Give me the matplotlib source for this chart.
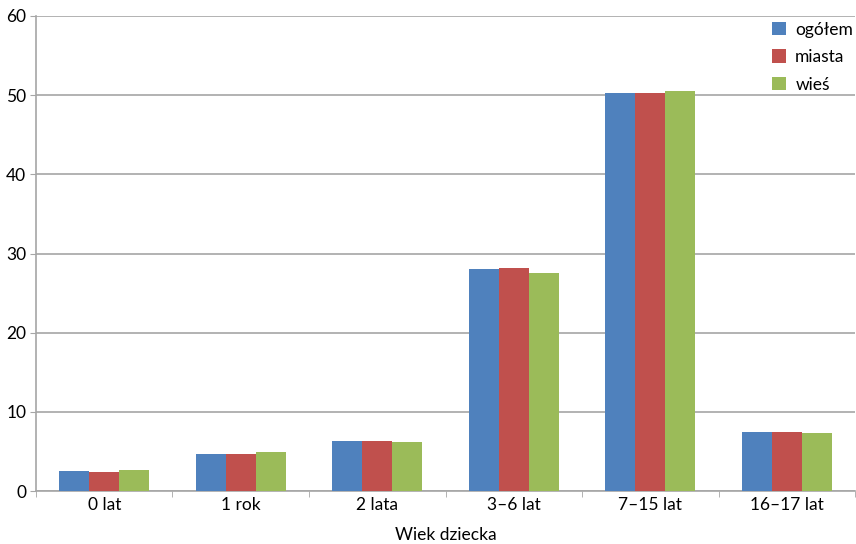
import numpy as np
import matplotlib.pyplot as plt

plt.rcParams['font.family'] = ['Lato', 'DejaVu Sans']

# Udział dzieci wg wieku (%)
categories = ["0 lat", "1 rok", "2 lata", "3–6 lat", "7–15 lat", "16–17 lat"]
ogolem = [2.5, 4.75, 6.3, 28.0, 50.3, 7.5]
miasta = [2.4, 4.7, 6.3, 28.2, 50.3, 7.5]
wies = [2.7, 5.0, 6.2, 27.6, 50.5, 7.4]

series = [("ogółem", ogolem, "#4F81BD"),
          ("miasta", miasta, "#C0504D"),
          ("wieś", wies, "#9BBB59")]

fig = plt.figure(figsize=(8.56, 5.44), dpi=100)
ax = fig.add_axes([0.042, 0.097, 0.957, 0.874])

x = np.arange(len(categories))
w = 0.22
for i, (name, vals, col) in enumerate(series):
    ax.bar(x + (i - 1) * w, vals, w, color=col, label=name, zorder=3)

ax.set_xlim(-0.5, len(categories) - 0.5)
ax.set_ylim(0, 60)
ax.set_yticks(range(0, 61, 10))
ax.yaxis.grid(True, color="#a6a6a6", linewidth=1.2, zorder=0)

ax.set_xticks(x)
ax.set_xticklabels(categories)
ax.set_xticks(np.arange(-0.5, len(categories)), minor=True)
ax.tick_params(axis="x", which="major", length=0, labelsize=12.5, pad=4)
ax.tick_params(axis="x", which="minor", length=4, color="#a6a6a6")
ax.tick_params(axis="y", length=4, color="#a6a6a6", labelsize=12.5, pad=3)

for side in ["top", "right"]:
    ax.spines[side].set_visible(False)
for side in ["left", "bottom"]:
    ax.spines[side].set_color("#a6a6a6")
    ax.spines[side].set_linewidth(1.2)

ax.set_xlabel("Wiek dziecka", fontsize=12.5, labelpad=10)

fig.legend(loc="upper left", bbox_to_anchor=(756 / 856, 1 - 6 / 544),
           frameon=False, fontsize=12.5, handlelength=0.81, handleheight=0.81,
           handletextpad=0.55, labelspacing=0.66, borderpad=0.4)

fig.savefig("out.png", dpi=100)
